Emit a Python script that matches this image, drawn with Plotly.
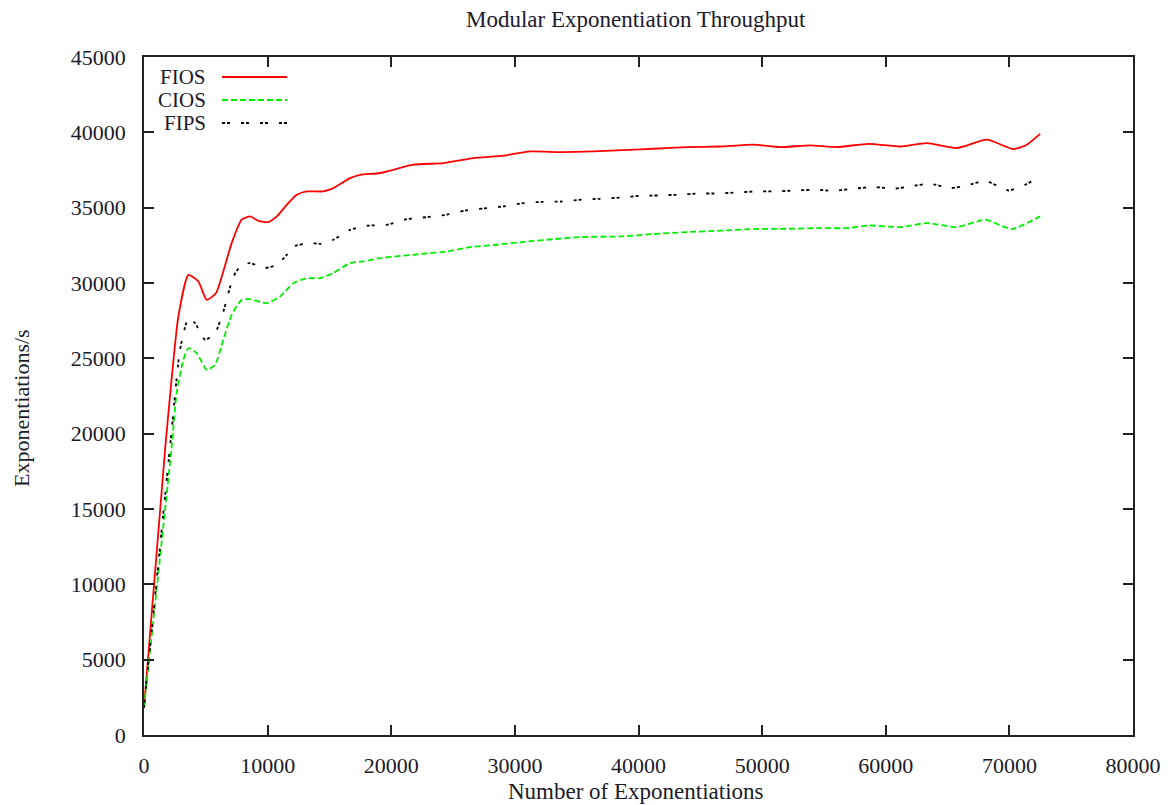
import plotly.graph_objects as go

# Throughput measurements (exponentiations per second) vs. number of exponentiations
fios_x = [0, 1700, 2780, 3590, 4400, 5070, 5830, 7090, 7900, 8580,
          9250, 10060, 10740, 11550, 12350, 13160, 14510, 15320, 16670, 17480,
          19090, 21790, 24220, 26640, 29070, 31230, 33660, 36350, 39180, 41210,
          43910, 46600, 49300, 51460, 53880, 56040, 58600, 61170, 63320, 65750,
          68180, 70330, 71410, 72490]
fios_y = [1800, 18900, 27780, 30540, 30100, 28880, 29330, 32650, 34200, 34420,
          34130, 34040, 34420, 35190, 35860, 36080, 36080, 36300, 36960, 37180,
          37300, 37850, 37960, 38290, 38450, 38730, 38690, 38730, 38840, 38910,
          39020, 39060, 39180, 39020, 39130, 39020, 39240, 39060, 39290, 38960,
          39510, 38890, 39180, 39900]

cios_x = [0, 2240, 2640, 3180, 3590, 4260, 5070, 5750, 6420, 7090,
          7900, 8580, 9930, 11000, 12080, 13160, 14240, 15320, 16670, 17740,
          19090, 22600, 24490, 26370, 28530, 30960, 33120, 35270, 38510, 41210,
          43910, 46600, 49300, 52000, 54690, 56850, 58600, 61170, 63320, 65750,
          68040, 70200, 72490]
cios_y = [1800, 19140, 22690, 24900, 25680, 25350, 24240, 24570, 26230, 27890,
          28880, 28930, 28660, 29100, 29990, 30320, 30320, 30660, 31320, 31430,
          31650, 31940, 32090, 32380, 32540, 32750, 32910, 33050, 33090, 33250,
          33380, 33470, 33580, 33600, 33640, 33640, 33820, 33710, 33980, 33710,
          34200, 33580, 34420]

fips_x = [0, 2240, 2910, 3590, 4130, 4940, 5750, 6420, 7230, 7900,
          8580, 9790, 10740, 11550, 12080, 13430, 14240, 15320, 16670, 18020,
          19640, 21250, 22870, 24490, 25970, 27450, 29070, 30690, 32300, 33790,
          35410, 36890, 38780, 40130, 41610, 43230, 44850, 46460, 47950, 49570,
          51190, 52670, 54290, 55770, 57390, 59140, 60620, 61970, 63590, 65210,
          66560, 68040, 69930, 71280, 72360]
fips_y = [1800, 20250, 25560, 27670, 27340, 26230, 26670, 28110, 30430, 31210,
          31320, 30990, 31210, 31870, 32420, 32650, 32600, 32870, 33530, 33800,
          33860, 34240, 34370, 34530, 34810, 34950, 35080, 35300, 35390, 35410,
          35530, 35590, 35680, 35790, 35810, 35860, 35940, 35940, 36010, 36080,
          36080, 36140, 36190, 36120, 36260, 36370, 36250, 36410, 36590, 36300,
          36470, 36790, 36140, 36520, 37000]

x_ticks = [0, 10000, 20000, 30000, 40000, 50000, 60000, 70000, 80000]
y_ticks = [0, 5000, 10000, 15000, 20000, 25000, 30000, 35000, 40000, 45000]

FONT = "Liberation Serif"
TXT = "#1a1a2a"

series = [
    ("FIOS", fios_x, fios_y, "#ff0000", "solid"),
    ("CIOS", cios_x, cios_y, "#00ee00", "6px,3px"),
    ("FIPS", fips_x, fips_y, "#000000", "3px,2px,3px,11px"),
]

fig = go.Figure()
for name, xs, ys, col, dash in series:
    fig.add_trace(go.Scatter(
        x=xs, y=ys, name=name, mode="lines",
        line=dict(color=col, width=1.8, dash=dash, shape="spline", smoothing=0.5),
        showlegend=False,
    ))

# Plot-area geometry in pixels (used to place key and titles)
W, H = 1173, 805
L, R, T, B = 144, 40, 57, 70
pw, ph = W - L - R, H - T - B


def px(xp):
    return (xp - L) / pw


def py(yp):
    return (H - B - yp) / ph


# gnuplot-style key: label on the left, line sample on the right
shapes = []
annotations = []
for i, (name, xs, ys, col, dash) in enumerate(series):
    yc = 77 + i * 23
    annotations.append(dict(
        x=px(208), y=py(yc), xref="paper", yref="paper", text=name,
        showarrow=False, xanchor="right", yanchor="middle",
        font=dict(family=FONT, size=21, color=TXT),
    ))
    shapes.append(dict(
        type="line", xref="paper", yref="paper",
        x0=px(222), x1=px(287), y0=py(yc), y1=py(yc),
        line=dict(color=col, width=1.8, dash=dash),
    ))

annotations += [
    dict(x=px(636), y=py(20), xref="paper", yref="paper",
         text="Modular Exponentiation Throughput", showarrow=False,
         xanchor="center", yanchor="middle",
         font=dict(family=FONT, size=23, color=TXT)),
    dict(x=px(636), y=py(791), xref="paper", yref="paper",
         text="Number of Exponentiations", showarrow=False,
         xanchor="center", yanchor="middle",
         font=dict(family=FONT, size=23, color=TXT)),
    dict(x=px(21), y=py(408), xref="paper", yref="paper",
         text="Exponentiations/s", showarrow=False, textangle=-90,
         xanchor="center", yanchor="middle",
         font=dict(family=FONT, size=22, color=TXT)),
]

axis_common = dict(
    showline=True, linecolor="#222222", linewidth=1.5, mirror="ticks",
    ticks="inside", ticklen=10, tickwidth=1.5, tickcolor="#222222",
    showgrid=False, zeroline=False,
    tickfont=dict(family=FONT, size=22, color=TXT),
)

fig.update_layout(
    width=W, height=H,
    margin=dict(l=L, r=R, t=T, b=B),
    paper_bgcolor="white", plot_bgcolor="white",
    xaxis=dict(range=[0, 80000], tickvals=x_ticks,
               ticktext=[str(v) for v in x_ticks], ticklabelstandoff=10,
               **axis_common),
    yaxis=dict(range=[0, 45000], tickvals=y_ticks,
               ticktext=[str(v) for v in y_ticks], ticklabelstandoff=12,
               **axis_common),
    shapes=shapes,
    annotations=annotations,
)

fig.write_html("out.html")
